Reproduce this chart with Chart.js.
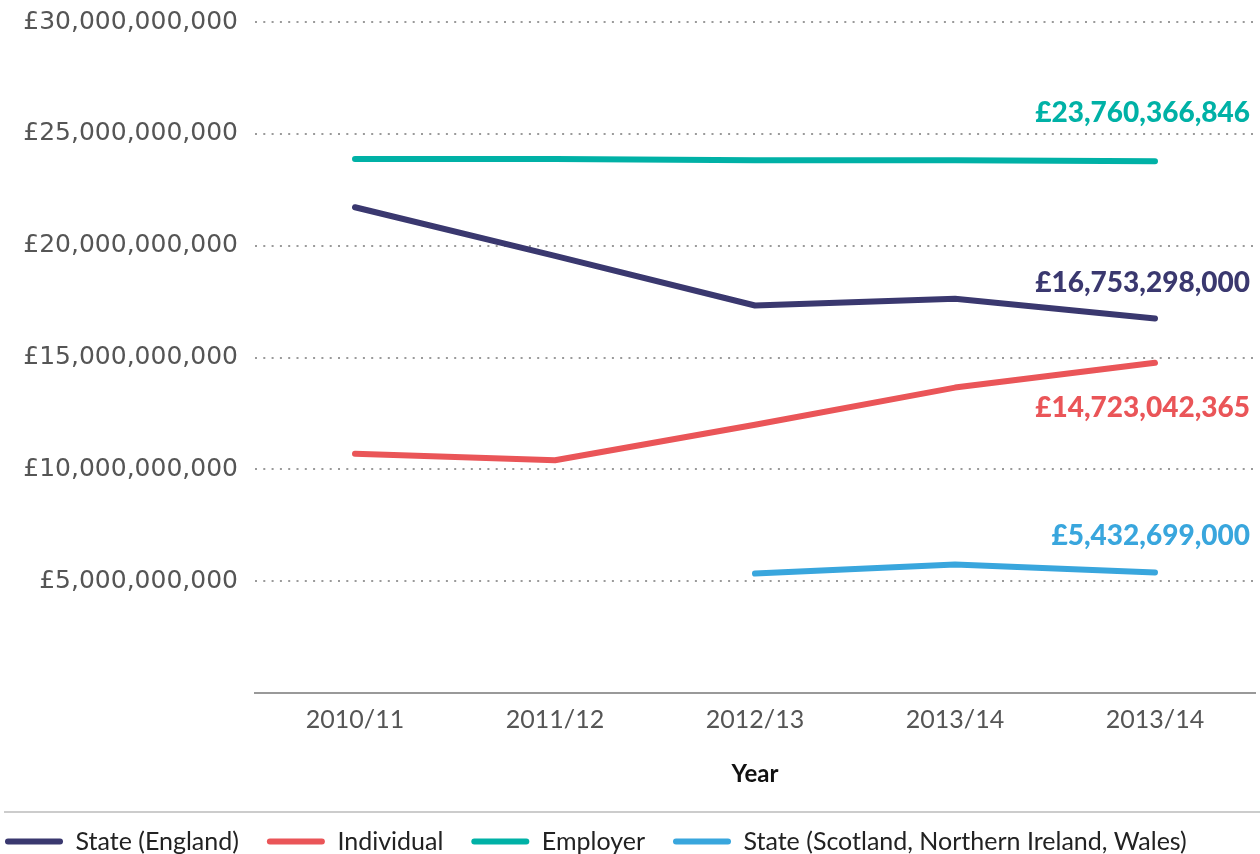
<!DOCTYPE html>
<html>
<head>
<meta charset="utf-8">
<script src="https://cdn.jsdelivr.net/npm/chart.js@4.4.1/dist/chart.umd.min.js"></script>
<style>
  html, body { margin: 0; padding: 0; background: #fff; }
  #wrap { width: 1260px; height: 854px; position: relative; }
</style>
</head>
<body>
<div id="wrap"><canvas id="grafico"></canvas></div>
<script>
const anos = ['2010/11', '2011/12', '2012/13', '2013/14', '2013/14'];

const stateEngland = [21.72e9, 19.55e9, 17.33e9, 17.63e9, 16.75e9];
const individual = [10.70e9, 10.41e9, 12.00e9, 13.66e9, 14.77e9];
const employer = [23.88e9, 23.88e9, 23.82e9, 23.82e9, 23.78e9];
const stateOutros = [null, null, 5.35e9, 5.75e9, 5.40e9];

const nomesSeries = ['State (England)', 'Individual', 'Employer', 'State (Scotland, Northern Ireland, Wales)'];
const rotulosFinais = ['£16,753,298,000', '£14,723,042,365', '£23,760,366,846', '£5,432,699,000'];

const yTicks = [0, 5e9, 10e9, 15e9, 20e9, 25e9, 30e9];

const cores = ['#3a386f', '#ea5558', '#00b1a6', '#39a6dd'];
// deslocamento vertical do rotulo final em relacao ao ultimo ponto
const deslocRotulo = [-35, 45, -48, -36];

const rotulosFinaisPlugin = {
    id: 'rotulosFinais',
    afterDatasetsDraw(chart) {
        const ctx = chart.ctx;
        chart.data.datasets.forEach((ds, i) => {
            const meta = chart.getDatasetMeta(i);
            const ultimo = meta.data[meta.data.length - 1];
            ctx.save();
            ctx.font = '900 28px Lato';
            ctx.fillStyle = cores[i];
            ctx.textAlign = 'right';
            ctx.textBaseline = 'middle';
            ctx.fillText(rotulosFinais[i], chart.width - 10, ultimo.y + deslocRotulo[i]);
            ctx.restore();
        });
    }
};

const separadorPlugin = {
    id: 'separador',
    afterDraw(chart) {
        const ctx = chart.ctx;
        const y = chart.legend.top + 11;
        ctx.save();
        ctx.strokeStyle = '#cccccc';
        ctx.lineWidth = 2;
        ctx.beginPath();
        ctx.moveTo(4, y);
        ctx.lineTo(chart.width, y);
        ctx.stroke();
        ctx.restore();
    }
};

const datasets = [stateEngland, individual, employer, stateOutros].map((valores, i) => ({
    label: nomesSeries[i],
    data: valores,
    borderColor: cores[i],
    backgroundColor: cores[i],
    borderWidth: 6,
    borderCapStyle: 'round',
    borderJoinStyle: 'round',
    pointRadius: 0,
    tension: 0,
    fill: false
}));

new Chart(document.getElementById('grafico'), {
    type: 'line',
    data: { labels: anos, datasets },
    plugins: [rotulosFinaisPlugin, separadorPlugin],
    options: {
        responsive: true,
        maintainAspectRatio: false,
        animation: false,
        layout: { padding: { top: 22, right: 5, left: -23, bottom: -10 } },
        scales: {
            x: {
                offset: true,
                grid: { display: false, drawTicks: false },
                border: { display: true, color: '#999999', width: 2 },
                ticks: {
                    color: '#555555',
                    font: { family: 'Lato', size: 25 },
                    padding: 12,
                    maxRotation: 0
                },
                title: {
                    display: true,
                    text: 'Year',
                    color: '#111111',
                    font: { family: 'Lato', size: 24, weight: 'bold' },
                    padding: { top: 13, bottom: 12 }
                }
            },
            y: {
                min: 0,
                max: 30e9,
                afterBuildTicks(scale) {
                    scale.ticks = yTicks.map(v => ({ value: v }));
                },
                afterFit(scale) {
                    scale.width = 278;
                    scale.paddingTop = 0;
                    scale.paddingBottom = 0;
                },
                border: { display: false, dash: [2, 6.3] },
                grid: {
                    drawTicks: false,
                    color: ctx => ctx.tick && ctx.tick.value === 0 ? 'rgba(0,0,0,0)' : '#9a9a9a',
                    lineWidth: 2
                },
                ticks: {
                    color: '#555555',
                    font: { family: 'DejaVu Sans', size: 25 },
                    padding: 17,
                    callback: v => v === 0 ? '' : '£' + v.toLocaleString('en-GB')
                }
            }
        },
        plugins: {
            legend: {
                position: 'bottom',
                align: 'start',
                labels: {
                    boxWidth: 58,
                    boxHeight: 6,
                    useBorderRadius: true,
                    borderRadius: 3,
                    padding: 28,
                    color: '#222222',
                    font: { family: 'Lato', size: 25 },
                    generateLabels(chart) {
                        return Chart.defaults.plugins.legend.labels.generateLabels(chart)
                            .map(l => ({ ...l, lineWidth: 0, fillStyle: l.strokeStyle }));
                    }
                }
            },
            tooltip: { enabled: false }
        }
    }
});
</script>
</body>
</html>
